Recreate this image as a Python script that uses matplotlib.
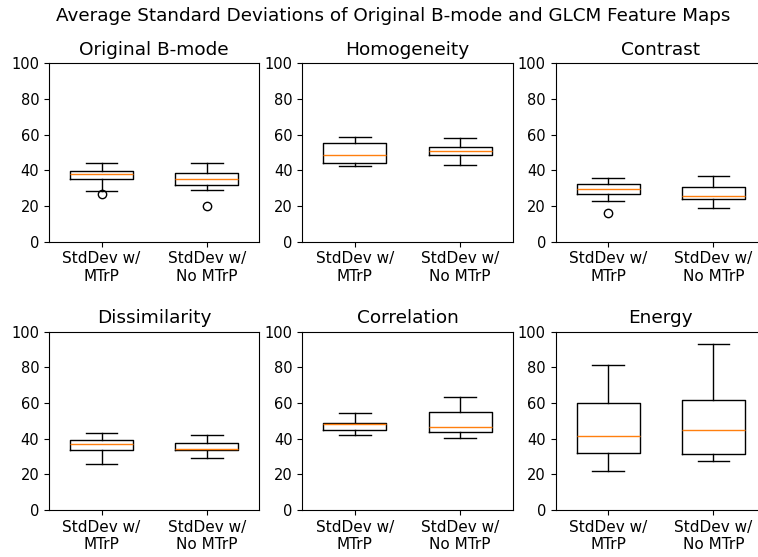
import matplotlib
matplotlib.use("Agg")
import matplotlib.pyplot as plt

titles = ["Original B-mode", "Homogeneity", "Contrast",
          "Dissimilarity", "Correlation", "Energy"]
labels = ["StdDev w/\nMTrP", "StdDev w/\nNo MTrP"]

# per panel: [MTrP, No MTrP]
whislo = [[28.2, 28.8], [42.4, 43.0], [22.6, 18.9],
          [25.6, 29.3], [42.1, 40.5], [21.9, 27.5]]
q1 = [[35.0, 31.8], [44.3, 48.6], [26.5, 24.1],
      [33.6, 33.6], [44.9, 43.9], [31.8, 31.2]]
med = [[37.9, 35.0], [48.4, 51.0], [29.3, 25.6],
       [36.8, 34.2], [48.0, 46.4], [41.5, 44.9]]
q3 = [[39.8, 38.7], [55.1, 53.3], [32.3, 30.7],
      [39.3, 37.4], [49.0, 55.1], [60.0, 61.5]]
whishi = [[44.3, 44.3], [58.9, 58.3], [35.7, 36.8],
          [43.0, 42.2], [54.6, 63.2], [81.1, 93.1]]
fliers = [[[26.7], [20.2]], [[], []], [[16.3], []],
          [[], []], [[], []], [[], []]]

fig, axes = plt.subplots(2, 3, figsize=(7.58, 5.57), dpi=100)
fig.subplots_adjust(left=0.0646, right=1.0106, top=0.8864, bottom=0.0844,
                    wspace=0.204, hspace=0.504)

for i, ax in enumerate(axes.flat):
    stats = []
    for j in range(2):
        stats.append(dict(whislo=whislo[i][j], q1=q1[i][j], med=med[i][j],
                          q3=q3[i][j], whishi=whishi[i][j],
                          fliers=fliers[i][j], label=labels[j]))
    ax.bxp(stats, widths=0.6)
    ax.set_ylim(0, 100)
    ax.set_title(titles[i], fontsize=13.3)
    ax.tick_params(axis="x", labelsize=11)
    ax.tick_params(axis="y", labelsize=10.5)

fig.suptitle("Average Standard Deviations of Original B-mode and GLCM Feature Maps",
             x=0.519, y=0.988, fontsize=13.2)
fig.savefig("out.png", dpi=100)
